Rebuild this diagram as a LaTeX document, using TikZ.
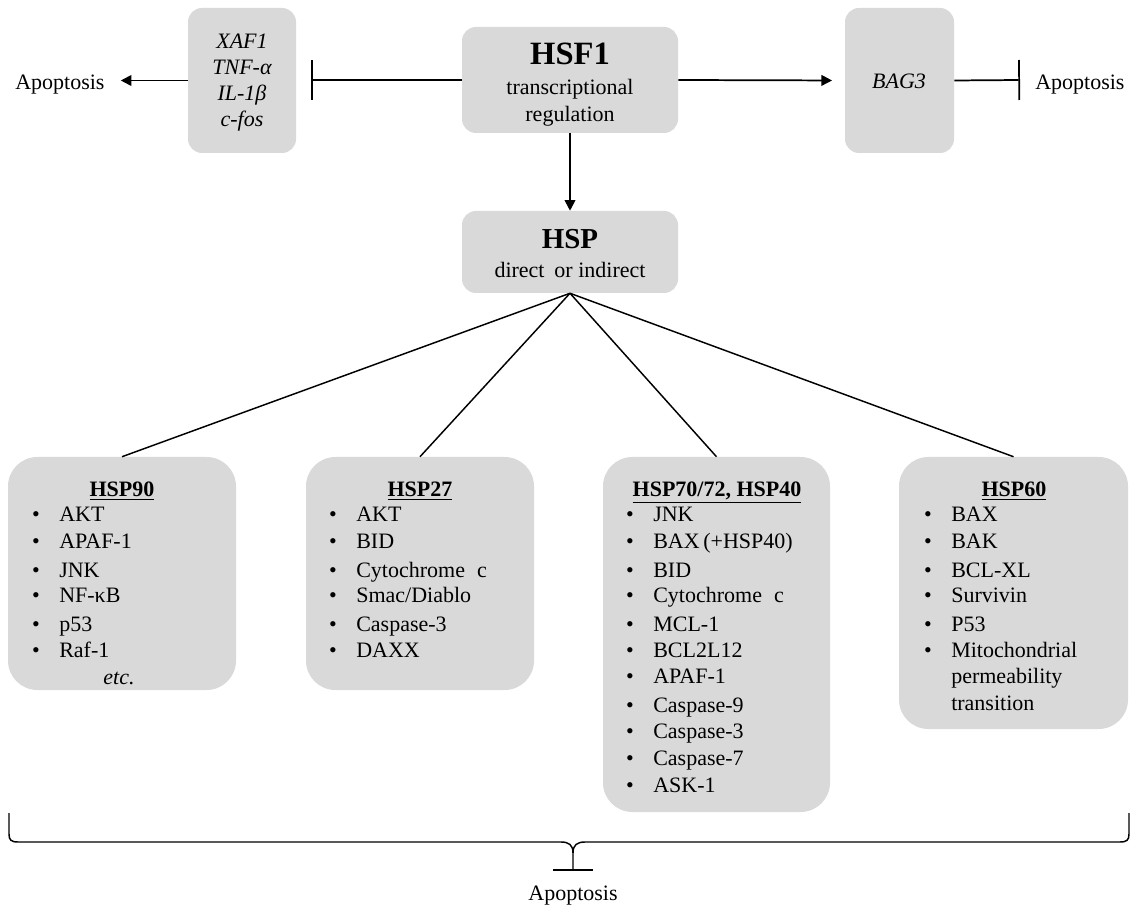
\documentclass[tikz,border=0pt]{standalone}
\usepackage{fontspec}
\setmainfont{Liberation Serif}
\usetikzlibrary{arrows.meta}
\definecolor{boxgray}{RGB}{217,217,217}
\def\pxu{0.75pt}
\begin{document}
\begin{tikzpicture}[x=0.75pt,y=-0.75pt,
  box/.style={fill=boxgray, draw=none, rounded corners=10.5pt, inner sep=0pt},
  listbox/.style={box, rounded corners=22pt},
  txt/.style={inner sep=0pt, font=\fontsize{16.5}{20}\selectfont},
  itxt/.style={inner sep=0pt, font=\fontsize{16.5}{20}\selectfont\itshape},
  hdr/.style={inner sep=0pt, font=\fontsize{16.5}{20}\selectfont\bfseries},
  conn/.style={line width=1.3pt},
  arr/.style={conn, -{Triangle[length=8pt,width=8pt]}},
  inh/.style={conn, -{Bar[width=30pt]}},
  bracestyle/.style={line width=1.1pt},
]
\useasboundingbox (0,0) rectangle (1136,905);

% ---------- top row boxes ----------
\node[box, minimum width=108*\pxu, minimum height=145*\pxu] (xaf) at (242,80.5) {};
\node[box, minimum width=216*\pxu, minimum height=106*\pxu] (hsf) at (570,80) {};
\node[box, minimum width=109*\pxu, minimum height=145*\pxu] (bag) at (899.5,80.5) {};
\node[box, minimum width=216*\pxu, minimum height=82*\pxu] (hsp) at (570,252) {};

% texts in top boxes
\node[itxt, anchor=base] (xaf1) at (242,49) {XAF1};
\node[itxt, anchor=base] (xaf2) at (242,75) {TNF-α};
\node[itxt, anchor=base] (xaf3) at (242,101) {IL-1β};
\node[itxt, anchor=base] (xaf4) at (242,127) {c-fos};

\node[inner sep=0pt, font=\fontsize{24.4}{28}\selectfont\bfseries, anchor=base] (hsft) at (570,65) {HSF1};
\node[txt, anchor=base] (hsf2) at (570,95) {transcriptional};
\node[txt, anchor=base] (hsf3) at (570,122) {regulation};

\node[itxt, anchor=base] (bagt) at (899,89) {BAG3};

\node[inner sep=0pt, font=\fontsize{21.7}{26}\selectfont\bfseries, anchor=base] (hspt) at (570,249) {HSP};
\node[txt, anchor=base] (hsp2) at (570,278) {direct\hspace{0.2em} or indirect};

% Apoptosis labels
\node[txt, anchor=base west] (apL) at (15,90) {Apoptosis};
\node[txt, anchor=base west] (apR) at (1035,90) {Apoptosis};
\node[txt, anchor=base] (apB) at (573,900) {Apoptosis};

% bar end points
\coordinate (barL) at (311,80);
\coordinate (barR) at (1020,80);

% ---------- top connectors ----------
\draw[arr, shorten >=12pt] (xaf.west) -- (xaf.west -| apL.east);
\draw[inh] (hsf.west) -- (barL);
\draw[arr, shorten >=9.5pt] (hsf.east) -- (bag.west);
\draw[inh] (bag.east) -- (barR);
\draw[arr] (hsf.south) -- (hsp.north);

% ---------- bottom boxes ----------
\node[listbox, minimum width=228*\pxu, minimum height=233*\pxu] (h90) at (122,573.5) {};
\node[listbox, minimum width=228*\pxu, minimum height=233*\pxu] (h27) at (420,573.5) {};
\node[listbox, minimum width=227*\pxu, minimum height=355*\pxu] (h70) at (716.5,634.5) {};
\node[listbox, minimum width=229*\pxu, minimum height=272*\pxu] (h60) at (1013.5,593) {};

\draw[conn, line width=1.1pt] (hsp.south) -- (h90.north);
\draw[conn, line width=1.1pt] (hsp.south) -- (h27.north);
\draw[conn, line width=1.1pt] (hsp.south) -- (h70.north);
\draw[conn, line width=1.1pt] (hsp.south) -- (h60.north);

% headers
\node[hdr, anchor=base] (h90h) at (122,497) {\underline{HSP90}};
\node[hdr, anchor=base] (h27h) at (420,497) {\underline{HSP27}};
\node[hdr, anchor=base] (h70h) at (717,497) {\underline{HSP70/72, HSP40}};
\node[hdr, anchor=base] (h60h) at (1014,497) {\underline{HSP60}};

% HSP90 list
\foreach \y/\t [count=\i] in {522/AKT, 548/APAF-1, 577/JNK, 603/NF-κB, 631/p53, 657/Raf-1} {
  \node[txt, anchor=base] (h90b\i) at (36,\y) {•};
  \node[txt, anchor=base west] (h90t\i) at (59,\y) {\t};
}
\node[itxt, anchor=base] (h90etc) at (119,684) {etc.};

% HSP27 list
\foreach \y/\t [count=\i] in {522/AKT, 548/BID, 577/{Cytochrome\hspace{0.3em} c}, 603/{Smac/Diablo}, 631/Caspase-3, 657/DAXX} {
  \node[txt, anchor=base] (h27b\i) at (333,\y) {•};
  \node[txt, anchor=base west] (h27t\i) at (356,\y) {\t};
}

% HSP70 list
\foreach \y/\t [count=\i] in {522/JNK, 548/BAX\,(+HSP40), 577/BID, 603/{Cytochrome\hspace{0.3em} c}, 631/MCL-1, 657/BCL2L12, 683/APAF-1, 712/Caspase-9, 738/Caspase-3, 765/Caspase-7, 792/ASK-1} {
  \node[txt, anchor=base] (h70b\i) at (630,\y) {•};
  \node[txt, anchor=base west] (h70t\i) at (653,\y) {\t};
}

% HSP60 list
\foreach \y/\t [count=\i] in {522/BAX, 548/BAK, 577/BCL-XL, 603/Survivin, 631/P53, 657/Mitochondrial} {
  \node[txt, anchor=base] (h60b\i) at (928,\y) {•};
  \node[txt, anchor=base west] (h60t\i) at (951,\y) {\t};
}
\node[txt, anchor=base west] (h60t7) at (951,683) {permeability};
\node[txt, anchor=base west] (h60t8) at (951,710) {transition};

% ---------- brace ----------
\draw[bracestyle] (9,813) -- (9,834) .. controls (9,840) and (11,842) .. (18,842)
  -- (561,842) .. controls (569,842) and (573,845) .. (573,853) -- (573,870);
\draw[bracestyle] (1129,813) -- (1129,834) .. controls (1129,840) and (1127,842) .. (1120,842)
  -- (585,842) .. controls (577,842) and (573,845) .. (573,853);
\draw[conn] (553,870) -- (593,870);

\end{tikzpicture}
\end{document}
